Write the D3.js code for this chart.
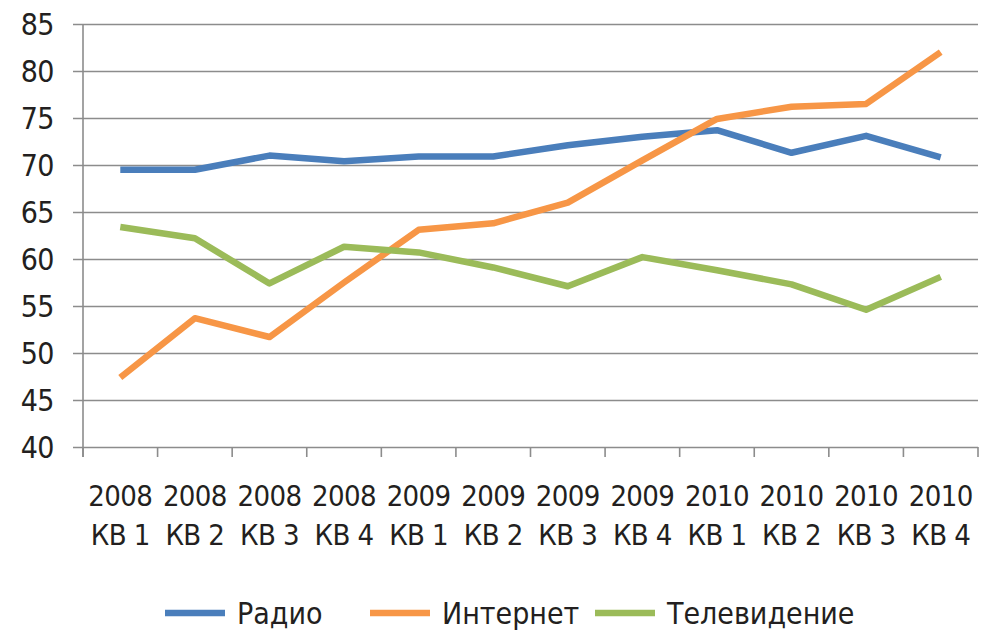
<!DOCTYPE html>
<html>
<head>
<meta charset="utf-8">
<script src="https://cdn.jsdelivr.net/npm/d3@7"></script>
<style>
  body { margin: 0; background: #fff; }
  svg text { font-family: "Liberation Sans Narrow", "DejaVu Sans Condensed", Roboto, sans-serif; fill: #231f20; }
</style>
</head>
<body>
<svg id="chart"></svg>
<script>
/*** DATA ***/
const years = ["2008", "2008", "2008", "2008", "2009", "2009", "2009", "2009", "2010", "2010", "2010", "2010"];
const quarters = ["КВ 1", "КВ 2", "КВ 3", "КВ 4", "КВ 1", "КВ 2", "КВ 3", "КВ 4", "КВ 1", "КВ 2", "КВ 3", "КВ 4"];
const radio = [69.5, 69.5, 71.0, 70.4, 70.9, 70.9, 72.1, 73.0, 73.7, 71.3, 73.1, 70.8];
const internet = [47.4, 53.7, 51.7, 57.5, 63.1, 63.8, 66.0, 70.5, 74.9, 76.2, 76.5, 82.0];
const tv = [63.4, 62.2, 57.4, 61.3, 60.7, 59.1, 57.1, 60.2, 58.8, 57.3, 54.6, 58.1];
const yTicks = [40, 45, 50, 55, 60, 65, 70, 75, 80, 85];

const seriesNames = ["Радио", "Интернет", "Телевидение"];
const seriesColors = ["#4a7ebb", "#f79646", "#9bbb59"];

/*** CONSTANTS ***/
WIDTH = 990;
HEIGHT = 642;

const margin = {top: 24, right: 12, bottom: 195, left: 83};

const series = [radio, internet, tv].map((v, i) => ({name: seriesNames[i], color: seriesColors[i], values: v}));
const categories = years.map((y, i) => y + " " + quarters[i]);

const svg = d3.select("#chart")
  .attr("width", WIDTH)
  .attr("height", HEIGHT);

const x = d3.scaleBand()
  .domain(categories)
  .range([margin.left, WIDTH - margin.right]);

const y = d3.scaleLinear()
  .domain([40, 85])
  .range([HEIGHT - margin.bottom, margin.top]);

// gridlines + y labels
const yAxis = g => g
  .attr("transform", `translate(${margin.left},0)`)
  .call(d3.axisLeft(y).tickValues(yTicks).tickSize(-(WIDTH - margin.left - margin.right)).tickSizeOuter(0).tickPadding(0))
  .call(g => g.select(".domain").remove())
  .call(g => g.selectAll(".tick line")
      .attr("x1", -10)
      .attr("stroke", "#8c8c8c")
      .attr("stroke-width", 1.6))
  .call(g => g.selectAll(".tick text")
      .attr("x", -29)
      .attr("dy", "0.36em")
      .attr("font-size", "30px")
      .attr("letter-spacing", "-0.5px"));

svg.append("g").call(yAxis);

// vertical axis line
svg.append("line")
  .attr("x1", margin.left).attr("x2", margin.left)
  .attr("y1", margin.top).attr("y2", y(40) + 10)
  .attr("stroke", "#8c8c8c")
  .attr("stroke-width", 1.6);

// x axis with band boundary ticks
const xAxis = g => g
  .attr("transform", `translate(0,${y(40)})`)
  .call(d3.axisBottom(x).tickSize(0).tickFormat(""))
  .call(g => g.select(".domain").remove());

svg.append("g").call(xAxis);

const boundaries = categories.map(c => x(c)).concat([x.range()[1]]);
svg.append("g")
  .selectAll("line")
  .data(boundaries)
  .join("line")
  .attr("x1", d => d).attr("x2", d => d)
  .attr("y1", y(40)).attr("y2", y(40) + 10)
  .attr("stroke", "#8c8c8c")
  .attr("stroke-width", 1.6);

// x labels on two lines
const xLabels = svg.append("g")
  .selectAll("text")
  .data(categories)
  .join("text")
  .attr("text-anchor", "middle")
  .attr("font-size", "29px")
  .attr("letter-spacing", "-0.6px");

xLabels.append("tspan")
  .attr("x", d => x(d) + x.bandwidth() / 2)
  .attr("y", 506)
  .text((d, i) => years[i]);

xLabels.append("tspan")
  .attr("x", d => x(d) + x.bandwidth() / 2)
  .attr("y", 545)
  .text((d, i) => quarters[i]);

// lines
const line = d3.line()
  .x((d, i) => x(categories[i]) + x.bandwidth() / 2)
  .y(d => y(d));

svg.append("g")
  .selectAll("path")
  .data(series)
  .join("path")
  .attr("fill", "none")
  .attr("stroke", d => d.color)
  .attr("stroke-width", 6.5)
  .attr("stroke-linejoin", "round")
  .attr("d", d => line(d.values));

// legend
const legendPos = [165, 370, 595];
const legend = svg.append("g")
  .selectAll("g")
  .data(series)
  .join("g")
  .attr("transform", (d, i) => `translate(${legendPos[i]},613)`);

legend.append("line")
  .attr("x1", 0).attr("x2", 60)
  .attr("stroke", d => d.color)
  .attr("stroke-width", 6.5);

legend.append("text")
  .attr("x", 72)
  .attr("dy", "0.36em")
  .attr("font-size", "30px")
  .text(d => d.name);
</script>
</body>
</html>
